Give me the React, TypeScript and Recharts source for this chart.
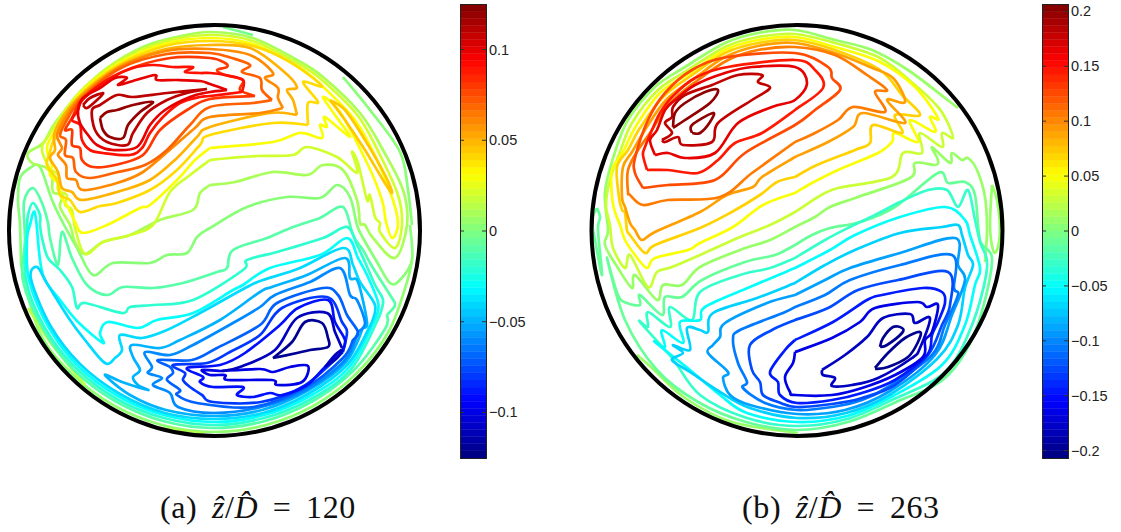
import React from "react";
import { ScatterChart, Scatter, XAxis, YAxis, ReferenceDot, BarChart, Bar } from "recharts";

// contour traces, flat x,y pairs in picture pixels
const a12 = [100,118,107,112,117,110,133,105,153,102,140,112,128,125,123,138,110,137,103,130,100,118];
const a11 = [207,89,167,93,133,97,117,95,100,105,92,110,95,130,107,142,127,145,133,133,147,113,167,100,187,93,207,89];
const a11b = [83,105,90,98,103,93,97,100,87,108,83,105];
const a10 = [227,90,210,84,200,81,177,80,157,80,155,75,133,81,118,85,127,78,115,78,100,88,83,98,78,110,80,123,88,135,97,145,113,150,137,147,150,125,165,110,190,97,210,92,227,90];
const a09 = [242,92,243,80,225,75,210,73,200,73,185,72,193,67,173,67,153,65,133,68,107,80,83,99,78,110,72,120,80,125,82,140,90,150,103,153,130,155,142,148,150,133,163,117,180,103,200,97,210,96,242,92];
const a08 = [255,96,240,90,243,80,225,75,217,70,227,67,225,63,210,58,170,58,122,72,83,99,72,118,65,130,72,130,72,145,80,148,82,160,93,167,115,165,143,155,160,130,187,110,210,99,255,96];
const a07 = [272,100,262,90,260,78,242,72,250,65,232,58,210,53,167,54,121,68,82,98,68,118,60,135,66,140,65,155,73,158,76,172,90,178,118,172,145,165,167,150,190,125,210,107,253,103,272,100];
const a06 = [283,108,278,98,278,88,265,78,273,73,250,55,210,49,166,51,120,67,81,97,65,118,57,135,62,148,58,155,66,165,67,178,76,180,83,190,117,183,143,172,173,147,195,128,210,117,260,113,283,108];
const a05 = [297,115,293,100,287,90,297,87,282,70,250,48,210,45,166,49,120,66,80,96,62,118,54,135,55,150,50,158,58,172,62,188,72,192,82,200,117,192,150,180,177,158,197,137,210,127,270,113,297,115];
const a04 = [308,125,308,103,318,102,303,82,322,86,290,62,253,46,210,41,165,46,119,65,80,96,55,138,50,152,47,165,57,180,60,195,70,200,80,212,100,206,117,203,150,190,177,170,200,145,210,135,273,123,308,125];
const a04b = [330,100,345,110,365,140,385,175,392,193,383,180,365,150,345,120,330,100];
const a03 = [210,148,273,142,300,133,322,138,320,125,327,127,325,117,350,137,335,115,323,97,340,112,368,165,382,200,386,222,392,238,398,225,393,200,377,160,355,120,320,84,297,66,253,44,210,38,164,44,118,64,79,95,52,136,47,150,52,165,50,175,60,185,60,195,68,207,75,222,83,233,107,225,140,208,150,205,177,180,195,160,210,148];
const a02 = [210,160,230,158,257,156,293,155,307,147,337,157,357,173,352,152,358,163,367,200,370,195,375,217,380,223,380,232,395,248,402,225,398,195,380,155,358,116,322,80,297,63,253,41,210,35,163,42,117,62,78,94,49,135,42,150,50,170,47,168,58,175,58,190,67,195,65,205,72,210,75,228,85,254,103,242,130,235,153,225,170,192,190,175,210,160];
const a01 = [210,185,235,182,273,172,307,175,323,165,343,170,357,200,360,223,365,225,373,238,395,258,407,225,403,190,383,150,360,113,323,77,297,60,253,38,210,32,177,37,143,47,107,68,80,93,55,123,43,143,28,153,32,163,45,167,52,175,53,192,63,195,60,207,70,225,75,242,85,254,103,242,130,235,160,220,193,210,200,193,210,185];
const a00 = [21,265,20,225,18,200,20,178,30,168,40,167,52,200,63,223,77,248,93,275,113,263,150,263,167,255,187,253,197,237,210,228,247,207,287,197,320,198,337,185,350,197,357,225,363,238,377,262,390,283,400,280,412,260,410,225];
const a00b = [343,77,370,110,400,152,408,190,412,225];
const a00c = [223,27,253,35];
const a00d = [21,265,39,331,71,373,113,405,162,425,214,432,266,425,315,405,357,373,389,331,407,282,412,260];
const aw1 = [28,308,50,342,85,385];
const aw2 = [150,427,205,433];
const an01 = [387,315,395,305,390,295,373,268,363,250,353,235,343,207,320,218,293,227,267,238,233,250,227,268,217,272,183,283,153,288,123,287,107,295,87,285,72,258,62,232,58,265,50,238,48,223,42,203,33,188,24,202,25,240,23,281,43,329,74,370,115,401,163,421,214,428,265,421,313,401,354,370,385,329,387,315];
const an02 = [380,315,383,300,375,285,365,262,357,245,347,227,323,238,277,252,247,260,243,270,193,300,153,305,130,307,122,313,85,303,77,308,72,287,60,270,48,258,42,238,40,225,40,215,33,203,28,215,27,230,26,280,45,328,76,368,117,399,164,418,214,425,264,418,311,399,352,368,380,315];
const an03 = [377,315,378,302,367,275,358,258,347,238,320,255,270,268,243,285,233,290,193,313,157,320,138,328,108,322,100,333,103,343,78,322,60,300,45,280,40,260,35,213,30,225,27,240,29,280,48,326,78,366,118,396,164,415,214,422,264,415,310,396,350,366,377,315];
const an04 = [372,322,375,305,360,282,353,265,343,248,300,268,263,280,247,287,200,313,167,330,142,338,120,335,122,350,115,358,105,363,85,340,70,320,48,285,37,267,31,279,50,325,80,364,120,394,165,413,214,419,263,413,308,394,348,364,372,322];
const an05 = [363,328,367,322,358,282,350,278,345,258,307,275,272,287,260,292,220,320,180,340,160,348,132,345,133,357,140,370,133,377,138,385,148,390,122,382,105,375,130,395,166,410,214,416,262,410,307,391,346,362,363,328];
const an06 = [358,332,365,323,357,300,350,295,340,268,310,282,275,295,260,307,233,323,193,345,170,355,145,352,152,367,148,373,162,378,153,385,170,393,178,407,214,413,261,407,306,390,345,360,358,332];
const an07 = [353,340,358,332,347,315,338,295,323,288,277,303,260,325,217,348,192,360,158,360,170,367,173,373,167,380,180,390,177,395,197,403,253,407,305,388,343,358,353,340];
const an08 = [343,352,347,332,342,322,327,297,282,308,260,335,230,352,207,363,173,365,185,373,183,380,190,387,202,395,213,402,261,402,304,386,343,352];
const an09 = [342,352,345,340,335,322,328,300,298,308,280,325,245,353,220,365,187,368,203,377,200,382,213,387,243,387,237,395,253,397,270,393,282,395,307,385,325,367,342,352];
const an11 = [220,371,260,369,273,372,290,367,308,366,302,382,277,385,272,380,228,380,225,375,210,375,202,370,220,371];
const an11b = [222,371,240,367,275,350,297,318,327,313,335,332,342,348];
const an11c = [325,367,335,355,342,350,337,358,325,367];
const an12 = [273,358,292,342,305,322,322,323,328,338,328,347,310,350,297,353,273,358];

const b20a = [673,127,675,113,685,103,705,92,718,90,710,103,685,120,673,128];
const b20b = [692,133,692,125,713,113,710,122,700,133,692,133];
const b18 = [662,140,672,133,665,123,672,117,673,107,685,95,712,85,738,75,762,75,758,82,770,88,752,100,718,123,712,142,683,145,678,137,665,142,662,140];
const b16 = [655,155,650,140,657,130,665,110,675,100,695,85,725,73,752,67,795,67,807,83,795,100,772,107,738,123,715,153,685,158,668,153,655,155];
const b14 = [647,170,643,155,645,147,652,130,660,113,672,97,695,78,728,67,795,60,815,70,823,88,795,110,762,133,735,143,718,160,698,173,668,170,647,170];
const b12 = [643,188,635,173,635,158,648,120,665,93,692,70,728,57,795,53,828,67,832,78,840,90,815,110,795,125,745,153,715,180,668,185,643,188];
const b10 = [795,142,815,133,838,120,853,107,885,112,875,92,887,90,867,75,835,55,795,47,758,50,728,60,698,80,670,103,650,133,638,150,628,170,628,192,630,195,643,205,668,200,720,197,752,173,795,142];
const b09 = [795,157,828,142,853,127,863,113,905,123,887,100,905,102,893,78,870,67,835,53,795,43,758,46,725,57,695,78,666,100,645,130,632,152,623,167,622,197,625,207,630,223,635,230,642,240,655,232,700,212,727,195,753,187,762,177,795,157];
const b07 = [795,177,817,165,855,150,870,143,873,125,902,133,895,115,920,115,902,95,880,70,835,50,795,40,758,43,725,53,692,75,663,97,640,128,628,150,617,167,619,197,622,210,625,213,627,230,630,235,645,253,655,245,700,228,730,213,760,195,777,182,795,177];
const b05 = [795,193,812,183,838,170,878,153,892,142,895,133,918,142,910,120,935,132,930,117,938,118,915,87,880,62,835,47,795,37,758,40,725,50,690,73,660,93,636,126,623,152,612,170,612,197,615,212,620,225,625,240,635,255,647,268,655,258,688,250,700,243,733,227,763,205,795,193];
const b03 = [948,123,938,107,915,85,880,58,835,43,795,34,758,37,725,47,688,70,658,90,632,123,620,152,610,180,606,205,610,225,613,248,625,268,630,255,648,287,657,272,672,267,700,255,740,237,770,225,795,212,818,197,838,188,892,177,903,153,922,153,920,133,942,147,942,133,953,138,948,123];
const b01 = [958,108,945,98,908,70,872,50,835,40,795,30,758,33,725,43,685,67,655,87,628,120,615,152,605,192,608,230,605,245,618,268,632,288,635,275,657,300,663,285,682,285,700,267,740,250,770,240,795,227,815,217,830,207,858,197,910,178,915,163,935,165,938,160,932,147,950,163,952,153,962,160,968,158,977,170,985,197,987,230,985,262];
const bLobeR = [992,185,997,200,1000,230,997,250,993,250,990,225,992,185];
const bLobeL = [597,208,600,217,598,230,602,275,595,240,592,220,597,208];
const bw1 = [637,355,652,368,685,398,732,422,798,433];
const bn00 = [795,245,812,235,830,228,860,222,895,207,938,173,948,183,965,182,975,195,980,240,992,262,975,332,945,378,896,402,848,422,797,430,746,422,698,402,657,370,625,320,607,258,618,295,627,303,640,305,640,295,662,315,665,297,682,297,702,280,745,262,775,255,795,245];
const bn03 = [795,258,825,240,850,227,875,215,900,202,928,190,947,190,958,207,968,190,975,220,980,242,987,268,972,325,945,372,894,399,847,419,797,426,747,418,700,395,672,358,640,322,648,327,648,312,670,327,670,307,692,320,700,292,740,275,770,268,795,258];
const bn05 = [795,268,830,250,855,235,900,217,945,207,965,220,970,235,980,268,975,285,965,325,942,365,893,396,847,416,797,422,747,413,720,395,690,370,655,342,665,347,662,330,683,343,680,322,700,320,705,307,750,287,795,268];
const bn07 = [795,283,825,265,855,250,900,233,942,227,958,225,962,235,968,255,973,265,965,288,958,325,938,358,891,394,846,413,797,418,750,408,720,392,690,372,672,360,683,353,673,345,690,350,687,328,700,330,708,332,713,313,757,298,795,283];
const bn09 = [795,295,825,280,850,268,900,253,955,238,958,265,965,280,952,315,935,355,890,391,845,410,797,414,750,405,730,395,723,378,728,372,708,353,713,345,720,337,725,323,767,303,795,295];
const bn10 = [795,307,825,295,850,280,900,265,952,255,954,288,958,295,945,325,932,355,888,387,862,400,832,407,797,410,765,403,743,388,747,382,738,363,733,340,740,330,783,313,795,307];
const bn12 = [795,320,828,308,858,290,898,280,948,272,950,305,942,325,928,355,895,385,862,398,832,404,797,407,778,402,763,395,760,382,752,370,750,345,772,330,795,320];
const bn14 = [795,340,833,322,867,300,882,295,923,288,942,292,945,303,938,322,932,335,927,355,895,380,862,393,832,400,797,403,780,395,778,382,770,372,785,350,795,340];
const bn16 = [795,352,832,338,860,322,875,308,917,302,927,307,938,305,932,332,925,340,923,357,895,375,862,388,832,395,795,395,790,392,785,377,793,363,795,352];
const bn18 = [822,370,845,355,867,337,883,318,910,314,915,323,930,318,920,348,912,358,878,378,852,385,832,386,835,378,823,375,822,370];
const bn20a = [880,347,883,338,893,327,902,328,902,333,887,345,880,347];
const bn20b = [875,368,888,353,905,338,920,332,918,342,908,357,888,367,875,369];

const contoursA: [number, number[]][] = [
  [0.002, a00], [0.002, a00b], [-0.003, a00c], [0.004, a00d], [0.014, aw1], [0.012, aw2],
  [0.01, a01], [0.02, a02], [0.03, a03], [0.04, a04], [0.045, a04b], [0.05, a05], [0.06, a06], [0.07, a07], [0.08, a08], [0.09, a09], [0.1, a10], [0.11, a11], [0.11, a11b], [0.12, a12],
  [-0.01, an01], [-0.02, an02], [-0.03, an03], [-0.04, an04], [-0.05, an05], [-0.06, an06], [-0.07, an07], [-0.08, an08], [-0.09, an09], [-0.1, an11], [-0.11, an11b], [-0.11, an11c], [-0.12, an12],
];
const contoursB: [number, number[]][] = [
  [0.01, b01], [0.01, bLobeR], [-0.01, bLobeL], [0.01, bw1], [0.03, b03], [0.05, b05], [0.07, b07], [0.09, b09], [0.105, b10], [0.125, b12], [0.145, b14], [0.165, b16], [0.18, b18], [0.2, b20a], [0.2, b20b],
  [-0.01, bn00], [-0.03, bn03], [-0.05, bn05], [-0.07, bn07], [-0.09, bn09], [-0.105, bn10], [-0.125, bn12], [-0.145, bn14], [-0.165, bn16], [-0.18, bn18], [-0.2, bn20a], [-0.2, bn20b],
];

const ticksA = [-0.1, -0.05, 0, 0.05, 0.1];
const ticksB = [-0.2, -0.15, -0.1, -0.05, 0, 0.05, 0.1, 0.15, 0.2];
const maxA = 0.1251;
const maxB = 0.2067;
const BANDS = 32;

const jet = (t: number) => {
  const ch = (c: number) => Math.round(255 * Math.max(0, Math.min(1, c)));
  const r = 1.5 - Math.abs(4 * t - 3);
  const g = 1.5 - Math.abs(4 * t - 2);
  const b = 1.5 - Math.abs(4 * t - 1);
  return `rgb(${ch(r)},${ch(g)},${ch(b)})`;
};

const toPoints = (flat: number[]) => {
  const out: { x: number; y: number }[] = [];
  for (let i = 0; i < flat.length; i += 2) out.push({ x: flat[i], y: flat[i + 1] });
  return out;
};

// smooth through every traced point so the zigzag tips stay where they were read
const throughPoints = (context: any) => {
  let pts: number[][] = [];
  return {
    areaStart() {},
    areaEnd() {},
    lineStart() {
      pts = [];
    },
    point(x: number, y: number) {
      pts.push([+x, +y]);
    },
    lineEnd() {
      if (!pts.length) return;
      context.moveTo(pts[0][0], pts[0][1]);
      for (let i = 0; i < pts.length - 1; i++) {
        const p0 = pts[Math.max(i - 1, 0)];
        const p1 = pts[i];
        const p2 = pts[i + 1];
        const p3 = pts[Math.min(i + 2, pts.length - 1)];
        context.bezierCurveTo(
          p1[0] + (p2[0] - p0[0]) / 6,
          p1[1] + (p2[1] - p0[1]) / 6,
          p2[0] - (p3[0] - p1[0]) / 6,
          p2[1] - (p3[1] - p1[1]) / 6,
          p2[0],
          p2[1],
        );
      }
    },
  };
};

const NoDot = () => <g />;

const Disc = ({ contours, max, left, cx }: { contours: [number, number[]][]; max: number; left: number; cx: number }) => (
  <div style={{ position: "absolute", left, top: 0 }}>
    <ScatterChart width={430} height={460} margin={{ top: 0, right: 0, bottom: 0, left: 0 }}>
      <XAxis type="number" dataKey="x" domain={[left, left + 430]} hide allowDataOverflow />
      <YAxis type="number" dataKey="y" domain={[0, 460]} reversed hide allowDataOverflow />
      {contours.map(([level, flat], i) => {
        const color = jet((level + max) / (2 * max));
        return (
          <Scatter
            key={i}
            data={toPoints(flat)}
            shape={NoDot}
            line={{ stroke: color, strokeWidth: 2.7, strokeLinejoin: "round" }}
            lineJointType={throughPoints as any}
            isAnimationActive={false}
          />
        );
      })}
      <ReferenceDot x={cx} y={230.5} r={205.5} fill="none" stroke="#000" strokeWidth={4} ifOverflow="visible" />
    </ScatterChart>
  </div>
);

const ColorBar = ({ max, ticks, left }: { max: number; ticks: number[]; left: number }) => {
  const step = max / BANDS;
  const row: Record<string, number | string> = { name: "bar" };
  const keys: { key: string; color: string }[] = [];
  for (let i = 0; i < BANDS; i++) {
    row[`p${i}`] = step;
    row[`n${i}`] = -step;
    keys.push({ key: `p${i}`, color: jet(0.5 + (i + 0.5) / (2 * BANDS)) });
    keys.push({ key: `n${i}`, color: jet(0.5 - (i + 0.5) / (2 * BANDS)) });
  }
  const renderTick = (props: any) => {
    const { x, y, payload } = props;
    const v = payload.value as number;
    const label = v < 0 ? `\u2212${Math.abs(v)}` : `${v}`;
    return (
      <g>
        <line x1={x - 4} x2={x} y1={y} y2={y} stroke="#333" />
        <line x1={x - 26} x2={x - 22} y1={y} y2={y} stroke="#333" />
        <text x={x + 3} y={y + 5} fontSize={14.5} fontFamily="Liberation Sans" fill="#222">
          {label}
        </text>
      </g>
    );
  };
  return (
    <div style={{ position: "absolute", left, top: 3.5 }}>
      <BarChart
        width={80}
        height={454}
        data={[row]}
        stackOffset="sign"
        barCategoryGap={0}
        margin={{ top: 0, right: 0, bottom: 0, left: 0 }}
      >
        <XAxis dataKey="name" hide />
        <YAxis
          type="number"
          orientation="right"
          width={54}
          domain={[-max, max]}
          ticks={ticks}
          tick={renderTick}
          tickLine={false}
          axisLine={false}
          tickMargin={0}
          tickSize={0}
          interval={0}
          allowDataOverflow
        />
        {keys.map((k) => (
          <Bar key={k.key} dataKey={k.key} stackId="c" fill={k.color} stroke={k.color} strokeWidth={0.4} isAnimationActive={false} />
        ))}
      </BarChart>
      <div style={{ position: "absolute", left: 0, top: 0, width: 25, height: 453, border: "1px solid #222" }} />
    </div>
  );
};

const Caption = ({ tag, value, left }: { tag: string; value: string; left: number }) => (
  <div
    style={{
      position: "absolute",
      left,
      top: 488,
      fontFamily: "Liberation Serif",
      fontSize: 32,
      lineHeight: "38px",
      wordSpacing: 6,
      letterSpacing: 0.6,
      whiteSpace: "nowrap",
      color: "#111",
    }}
  >
    ({tag}) <i>{"\u1E91"}</i>/<i>{"D\u0302"}</i> = {value}
  </div>
);

export default function App() {
  return (
    <div style={{ position: "absolute", left: 0, top: 0, width: 1121, height: 532, background: "#fff" }}>
      <Disc contours={contoursA} max={maxA} left={0} cx={214.5} />
      <Disc contours={contoursB} max={maxB} left={583} cx={797} />
      <ColorBar max={maxA} ticks={ticksA} left={460} />
      <ColorBar max={maxB} ticks={ticksB} left={1042} />
      <Caption tag="a" value="120" left={160} />
      <Caption tag="b" value="263" left={742} />
    </div>
  );
}
